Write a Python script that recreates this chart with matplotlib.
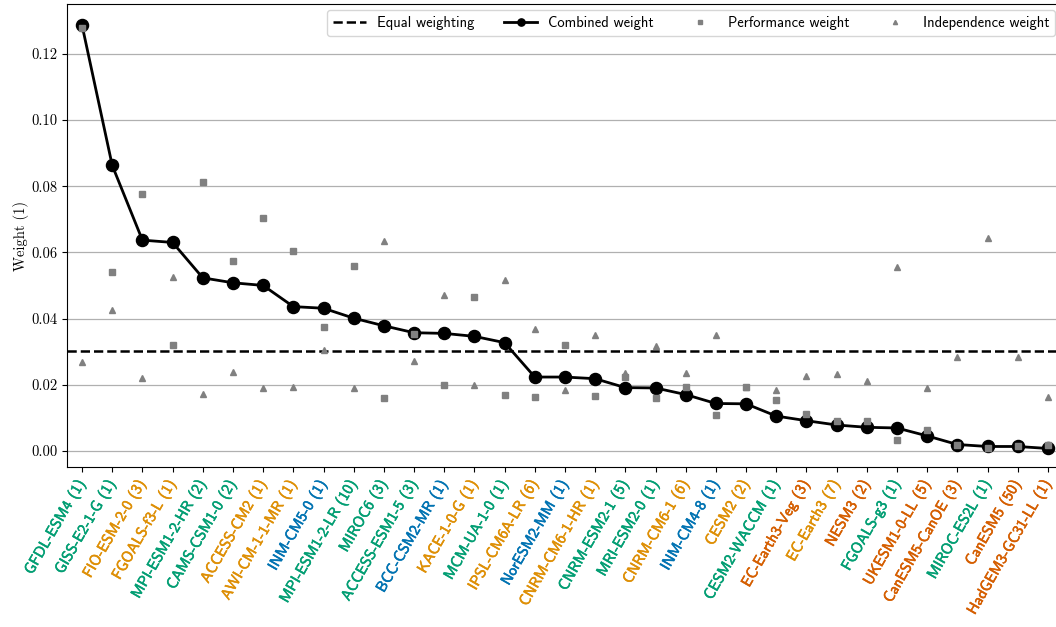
import matplotlib
matplotlib.use("Agg")
import matplotlib.pyplot as plt
import matplotlib.patheffects as pe
import numpy as np

# Models (ensemble size in brackets), ordered by combined weight
models = [
    "GFDL-ESM4 (1)", "GISS-E2-1-G (1)", "FIO-ESM-2-0 (3)", "FGOALS-f3-L (1)",
    "MPI-ESM1-2-HR (2)", "CAMS-CSM1-0 (2)", "ACCESS-CM2 (1)", "AWI-CM-1-1-MR (1)",
    "INM-CM5-0 (1)", "MPI-ESM1-2-LR (10)", "MIROC6 (3)", "ACCESS-ESM1-5 (3)",
    "BCC-CSM2-MR (1)", "KACE-1-0-G (1)", "MCM-UA-1-0 (1)", "IPSL-CM6A-LR (6)",
    "NorESM2-MM (1)", "CNRM-CM6-1-HR (1)", "CNRM-ESM2-1 (5)", "MRI-ESM2-0 (1)",
    "CNRM-CM6-1 (6)", "INM-CM4-8 (1)", "CESM2 (2)", "CESM2-WACCM (1)",
    "EC-Earth3-Veg (3)", "EC-Earth3 (7)", "NESM3 (2)", "FGOALS-g3 (1)",
    "UKESM1-0-LL (5)", "CanESM5-CanOE (3)", "MIROC-ES2L (1)", "CanESM5 (50)",
    "HadGEM3-GC31-LL (1)",
]

# Label colour group of each model
label_group = [
    "g", "g", "o", "o", "g", "g", "o", "o", "b", "g", "g", "g", "b", "o", "g", "o",
    "b", "o", "g", "g", "o", "b", "o", "g", "v", "o", "v", "g", "v", "v", "g", "v", "v",
]

combined_weight = [
    0.1287, 0.0863, 0.0637, 0.0630, 0.0523, 0.0508, 0.0500, 0.0436,
    0.0431, 0.0401, 0.0378, 0.0357, 0.0355, 0.0346, 0.0327, 0.0223,
    0.0223, 0.0218, 0.0191, 0.0190, 0.0170, 0.0143, 0.0142, 0.0105,
    0.0091, 0.0078, 0.0071, 0.0069, 0.0045, 0.0019, 0.0013, 0.0013,
    0.0007,
]

performance_weight = [
    0.1277, 0.0540, 0.0775, 0.0319, 0.0812, 0.0573, 0.0703, 0.0605,
    0.0375, 0.0560, 0.0159, 0.0352, 0.0200, 0.0466, 0.0169, 0.0162,
    0.0321, 0.0167, 0.0222, 0.0160, 0.0193, 0.0108, 0.0193, 0.0153,
    0.0110, 0.0090, 0.0090, 0.0033, 0.0063, 0.0019, 0.0009, 0.0013,
    0.0017,
]

independence_weight = [
    0.0268, 0.0425, 0.0219, 0.0526, 0.0172, 0.0237, 0.0189, 0.0192,
    0.0306, 0.0191, 0.0635, 0.0272, 0.0470, 0.0198, 0.0516, 0.0369,
    0.0185, 0.0349, 0.0234, 0.0316, 0.0235, 0.0350, 0.0193, 0.0185,
    0.0225, 0.0232, 0.0210, 0.0557, 0.0190, 0.0284, 0.0644, 0.0284,
    0.0162,
]

group_colors = {"g": "#029E73", "o": "#DE8F05", "b": "#0173B2", "v": "#D55E00"}

equal_weight = 1.0 / len(models)

fig = plt.figure(figsize=(10.56, 6.27), dpi=100)
ax = fig.add_axes([0.0634, 0.2552, 0.9432, 0.7384])

x = np.arange(len(models))

ax.axhline(equal_weight, color="black", ls="--", lw=1.8, zorder=2,
           label="Equal weighting")
ax.plot(x, combined_weight, color="black", lw=2.0, marker="o", ms=8.7,
        zorder=3, label="Combined weight")
ax.plot(x, independence_weight, ls="none", marker="^", ms=5, color="gray",
        zorder=4, label="Independence weight")
ax.plot(x, performance_weight, ls="none", marker="s", ms=4.5, color="gray",
        zorder=5, label="Performance weight")

ax.set_xlim(-0.5, len(models) - 0.5)
ax.set_ylim(-0.0049, 0.1351)
ax.set_yticks(np.arange(0, 0.121, 0.02))
ax.set_yticklabels([f"{v:.2f}" for v in np.arange(0, 0.121, 0.02)],
                   fontfamily="cmr10", fontsize=10.5)
ax.grid(axis="y", color="#b0b0b0", lw=0.9, zorder=0)
ax.set_axisbelow(True)

ax.set_xticks(x)
ax.set_xticklabels(models, rotation=60, ha="right", va="center",
                   rotation_mode="anchor", fontfamily="cmss10", fontsize=11)
ax.tick_params(axis="x", pad=7)
for lbl, grp in zip(ax.get_xticklabels(), label_group):
    c = group_colors[grp]
    lbl.set_color(c)
    lbl.set_path_effects([pe.withStroke(linewidth=0.4, foreground=c)])

ax.set_ylabel("Weight (1)", fontfamily="cmr10", fontsize=10.5)
ax.yaxis.set_label_coords(-0.038, 0.5)

handles, labels = ax.get_legend_handles_labels()
order = [0, 1, 3, 2]
ax.legend([handles[i] for i in order], [labels[i] for i in order],
          ncol=4, loc="upper right", bbox_to_anchor=(1055 / 1056, 1 - 10 / 627),
          bbox_transform=fig.transFigure, borderaxespad=0,
          prop={"family": "cmss10", "size": 10.5}, handlelength=2.3,
          handletextpad=0.75, columnspacing=2.0, markerscale=0.6)

fig.savefig("out.png", dpi=100)
